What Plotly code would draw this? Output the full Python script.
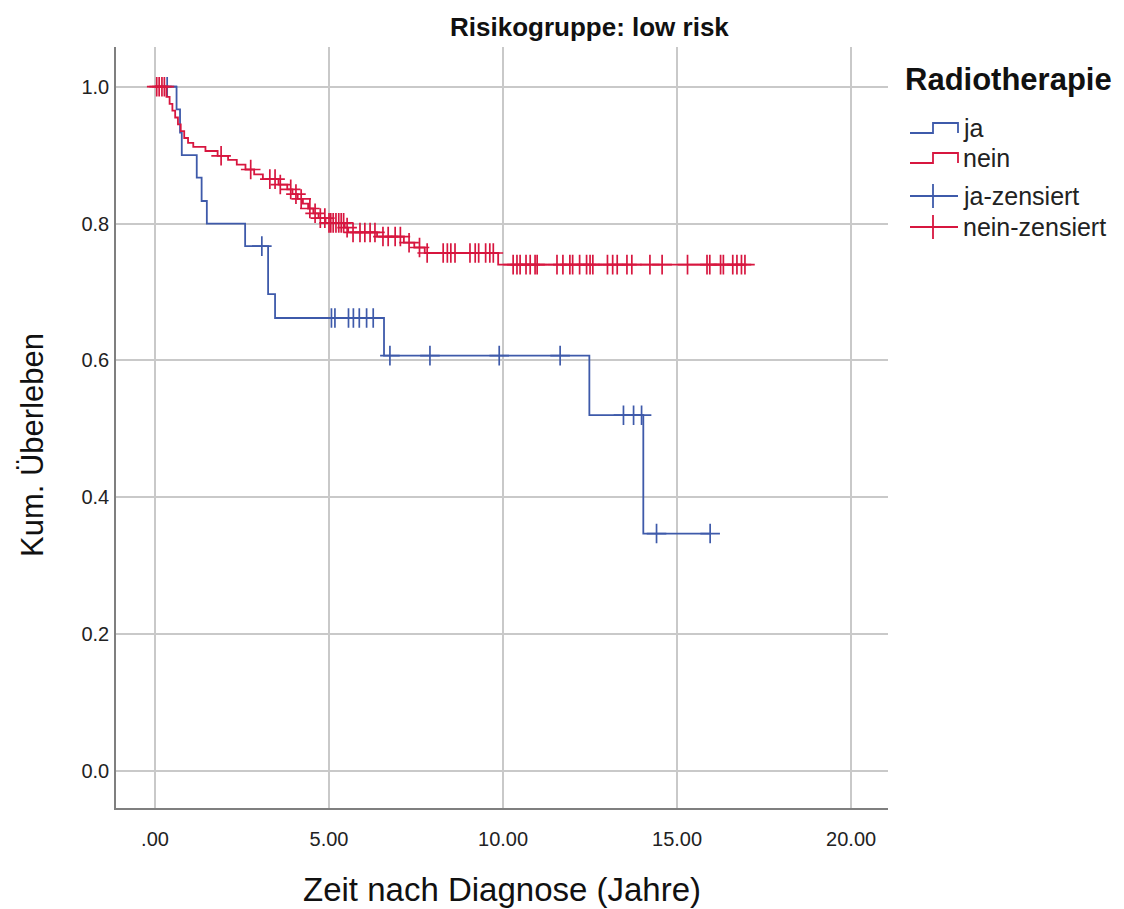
import numpy as np
import plotly.graph_objects as go

# ---------------- data ----------------
title_text = "Risikogruppe: low risk"
x_title = "Zeit nach Diagnose (Jahre)"
y_title = "Kum. Überleben"
legend_title = "Radiotherapie"
legend_labels = ["ja", "nein", "ja-zensiert", "nein-zensiert"]

x_tickvals = [0, 5, 10, 15, 20]
x_ticktext = [".00", "5.00", "10.00", "15.00", "20.00"]
y_tickvals = [0.0, 0.2, 0.4, 0.6, 0.8, 1.0]
y_ticktext = ["0.0", "0.2", "0.4", "0.6", "0.8", "1.0"]

# group "ja": event times and survival after each step
ja_event_t = [0.62, 0.72, 0.77, 1.20, 1.34, 1.49, 2.59, 3.25, 3.45, 6.58, 12.48, 14.03]
ja_event_s = [0.967, 0.933, 0.900, 0.867, 0.833, 0.800, 0.767, 0.697, 0.662, 0.607, 0.520, 0.347]
ja_cens_t = [0.35, 3.07, 5.07, 5.17, 5.56, 5.70, 5.87, 6.08, 6.27, 6.75, 7.90, 9.89,
             11.64, 13.46, 13.75, 13.98, 14.41, 15.95]

# group "nein"
nein_event_t = [0.33, 0.42, 0.50, 0.58, 0.66, 0.74, 0.84, 0.95, 1.10, 1.45, 1.80, 2.10,
                2.35, 2.60, 2.85, 3.10, 3.55, 3.80, 3.95, 4.10, 4.25, 4.40, 4.55, 4.70,
                4.90, 5.45, 5.55, 6.38, 7.15, 7.45, 7.75, 9.86]
nein_event_s = [0.985, 0.975, 0.965, 0.955, 0.945, 0.935, 0.925, 0.918, 0.912, 0.906,
                0.899, 0.893, 0.886, 0.879, 0.872, 0.865, 0.857, 0.850, 0.843, 0.836,
                0.829, 0.822, 0.815, 0.808, 0.801, 0.794, 0.787, 0.781, 0.772, 0.765,
                0.757, 0.740]
nein_cens_t = [0.05, 0.12, 0.20, 0.27, 1.90, 2.75, 3.30, 3.45, 3.60, 3.90, 4.05, 4.20,
               4.45, 4.60, 4.75, 4.88, 5.00, 5.05, 5.12, 5.20, 5.28, 5.35, 5.42, 5.52,
               5.69, 5.89, 6.03, 6.18, 6.32, 6.55, 6.70, 6.90, 7.05, 7.30, 7.60, 7.82,
               8.28, 8.40, 8.50, 8.62, 9.05, 9.20, 9.30, 9.50, 9.62, 9.72, 10.29, 10.40,
               10.49, 10.66, 10.78, 10.92, 10.98, 11.55, 11.72, 11.92, 12.00, 12.20,
               12.40, 12.50, 12.58, 13.00, 13.15, 13.28, 13.56, 13.70, 14.22, 14.57,
               15.30, 15.86, 15.94, 16.25, 16.33, 16.60, 16.72, 16.85, 16.95]

# ---------------- helpers ----------------
BLUE = "#3E5AAA"
RED = "#D7163F"


def step_xy(ev_t, ev_s, cens_t):
    end = max(max(ev_t), max(cens_t))
    xs = [0.0] + list(ev_t) + [end]
    ys = [1.0] + list(ev_s) + [ev_s[-1]]
    return xs, ys


def surv_at(t, ev_t, ev_s):
    idx = np.searchsorted(np.array(ev_t), t, side="right") - 1
    return 1.0 if idx < 0 else ev_s[idx]


fig = go.Figure()

for ev_t, ev_s, cens_t, col in [(ja_event_t, ja_event_s, ja_cens_t, BLUE),
                                (nein_event_t, nein_event_s, nein_cens_t, RED)]:
    xs, ys = step_xy(ev_t, ev_s, cens_t)
    fig.add_trace(go.Scatter(x=xs, y=ys, mode="lines", line=dict(color=col, width=1.8, shape="hv"),
                             showlegend=False, hoverinfo="skip"))
    cy = [surv_at(t, ev_t, ev_s) for t in cens_t]
    fig.add_trace(go.Scatter(x=cens_t, y=cy, mode="markers",
                             marker=dict(symbol="cross-thin", size=14,
                                         line=dict(color=col, width=1.7)),
                             showlegend=False, hoverinfo="skip"))

# ---------------- layout ----------------
L, R, T, B = 116, 236, 47, 101
W, H = 1124, 909
PW, PH = W - L - R, H - T - B


def px(x):
    return (x - L) / PW


def py(y):
    return (H - B - y) / PH


fig.update_layout(
    width=W, height=H,
    margin=dict(l=L, r=R, t=T, b=B, autoexpand=False),
    paper_bgcolor="white", plot_bgcolor="white",
    font=dict(family="Liberation Sans, Arial, sans-serif", color="#111111"),
    showlegend=False,
)
fig.update_xaxes(range=[-1.12, 21.06], tickvals=x_tickvals, ticktext=x_ticktext,
                 showgrid=True, gridcolor="#C9C9C9", gridwidth=2,
                 showline=True, linecolor="#7F7F7F", linewidth=1.5,
                 zeroline=False, ticks="", ticklabelstandoff=12, automargin=False,
                 tickfont=dict(size=20, color="#222222"))
fig.update_yaxes(range=[-0.054, 1.058], tickvals=y_tickvals, ticktext=y_ticktext,
                 showgrid=True, gridcolor="#C9C9C9", gridwidth=2,
                 showline=True, linecolor="#7F7F7F", linewidth=1.5,
                 zeroline=False, ticks="", ticklabelstandoff=1, automargin=False,
                 tickfont=dict(size=20, color="#222222"))

# axis titles
fig.add_annotation(text=x_title, xref="paper", yref="paper", x=px(502), y=py(889),
                   showarrow=False, xanchor="center", yanchor="middle",
                   font=dict(size=33, color="#111111"))
fig.add_annotation(text=y_title, xref="paper", yref="paper", x=px(32), y=py(445),
                   showarrow=False, xanchor="center", yanchor="middle", textangle=-90,
                   font=dict(size=31, color="#111111"))

# title
fig.add_annotation(text="<b>" + title_text + "</b>", xref="paper", yref="paper",
                   x=px(589), y=py(27), showarrow=False, xanchor="center", yanchor="middle",
                   font=dict(size=26, color="#111111"))

# custom legend
fig.add_annotation(text="<b>" + legend_title + "</b>", xref="paper", yref="paper",
                   x=px(903), y=py(80), showarrow=False, xanchor="left", yanchor="middle",
                   font=dict(size=31, color="#111111"))

rows = [(128, BLUE, "step"), (158, RED, "step"), (196, BLUE, "cross"), (227, RED, "cross")]
for (yc, col, kind), lab in zip(rows, legend_labels):
    if kind == "step":
        path = (f"M {px(910)},{py(yc+5)} L {px(933)},{py(yc+5)} L {px(933)},{py(yc-5)} "
                f"L {px(958)},{py(yc-5)} L {px(958)},{py(yc+5)}")
        fig.add_shape(type="path", path=path, xref="paper", yref="paper",
                      line=dict(color=col, width=1.8))
    else:
        fig.add_shape(type="line", xref="paper", yref="paper", x0=px(910), x1=px(958),
                      y0=py(yc), y1=py(yc), line=dict(color=col, width=1.8))
        fig.add_shape(type="line", xref="paper", yref="paper", x0=px(933), x1=px(933),
                      y0=py(yc - 12), y1=py(yc + 12), line=dict(color=col, width=1.8))
    fig.add_annotation(text=lab, xref="paper", yref="paper", x=px(961), y=py(yc),
                       showarrow=False, xanchor="left", yanchor="middle",
                       font=dict(size=25, color="#222222"))

fig.write_html("out.html")
